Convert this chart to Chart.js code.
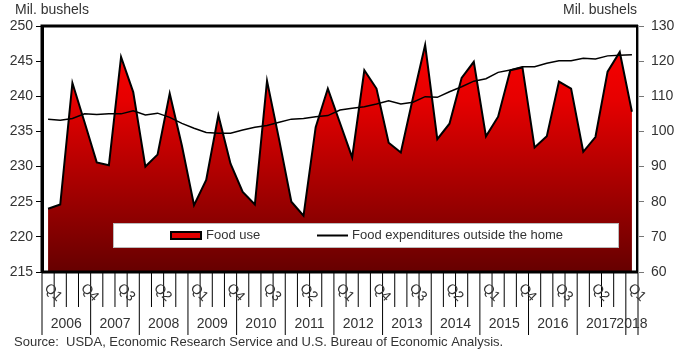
<!DOCTYPE html>
<html><head><meta charset="utf-8">
<script src="https://cdn.jsdelivr.net/npm/chart.js@4/dist/chart.umd.min.js"></script>
<style>html,body{margin:0;padding:0;background:#fff}canvas{display:block}</style>
</head><body>
<canvas id="c" width="680" height="356"></canvas>
<script>
// ---- data ----
const years = ['2006','2007','2008','2009','2010','2011','2012','2013','2014','2015','2016','2017','2018'];
const quarters = ['Q1','Q2','Q3','Q4'];
const categories = [];
years.forEach((y, k) => quarters.forEach(q => { if (k < years.length - 1 || q === 'Q1') categories.push(y + ' ' + q); }));

const foodUse = [224.0, 224.6, 241.9, 236.3, 230.6, 230.2, 245.6, 240.6, 230.0, 231.7, 240.4, 233.0,
  224.5, 228.1, 237.3, 230.4, 226.4, 224.6, 242.2, 233.8, 225.0, 223.0, 235.6, 241.1,
  236.2, 231.3, 243.7, 241.1, 233.4, 232.0, 239.8, 247.3, 233.9, 236.1, 242.6, 244.9,
  234.3, 237.1, 243.7, 244.1, 232.7, 234.3, 242.1, 241.1, 232.1, 234.2, 243.5, 246.3, 237.8];
const foodExpenditures = [103.5, 103.2, 103.7, 105.0, 104.8, 105.0, 105.0, 105.9, 104.7, 105.2, 104.0, 102.3,
  100.9, 99.7, 99.5, 99.5, 100.4, 101.2, 101.7, 102.6, 103.5, 103.7, 104.2, 104.5,
  106.1, 106.6, 107.0, 107.8, 108.7, 107.8, 108.3, 109.9, 109.7, 111.3, 112.7, 114.3,
  115.0, 116.8, 117.5, 118.4, 118.4, 119.4, 120.1, 120.1, 120.8, 120.6, 121.5, 121.7, 121.8];
const leftAxis = [215, 250, 5];
const rightAxis = [60, 130, 10];
const seriesNames = ['Food use', 'Food expenditures outside the home'];
const axisTitle = 'Mil. bushels';
const sourceNote = 'Source:  USDA, Economic Research Service and U.S. Bureau of Economic Analysis.';

// ---- style ----
const FONT = '"Liberation Sans", Arial, sans-serif';
const TXT = '#333';
Chart.defaults.font.family = FONT;

function redGradient(ctx, area) {
  const g = ctx.createLinearGradient(0, area.top, 0, area.bottom);
  g.addColorStop(0, '#ff0000');
  g.addColorStop(0.3, '#e60000');
  g.addColorStop(1, '#660000');
  return g;
}

const decor = {
  id: 'decor',
  afterDraw(chart) {
    const {ctx, chartArea: a, scales} = chart;
    const x = scales.x;
    const n = categories.length;
    const half = (x.getPixelForValue(1) - x.getPixelForValue(0)) / 2;
    ctx.save();
    // frame
    ctx.strokeStyle = '#000';
    ctx.lineWidth = 3;
    ctx.beginPath();
    ctx.moveTo(a.left, a.bottom); ctx.lineTo(a.left, a.top); ctx.lineTo(a.right, a.top);
    ctx.moveTo(a.left, a.bottom); ctx.lineTo(a.right, a.bottom);
    ctx.stroke();
    ctx.lineWidth = 2;
    ctx.beginPath(); ctx.moveTo(a.right - 1, a.top); ctx.lineTo(a.right - 1, a.bottom); ctx.stroke();
    // category ticks
    ctx.lineWidth = 1;
    for (let i = 0; i <= n; i++) {
      const px = i < n ? x.getPixelForValue(i) - half : x.getPixelForValue(n - 1) + half;
      const long = i % 4 === 0 || i === n;
      ctx.beginPath(); ctx.moveTo(px, a.bottom + 1); ctx.lineTo(px, a.bottom + (long ? 63 : 35)); ctx.stroke();
    }
    // quarter labels
    ctx.fillStyle = TXT;
    ctx.font = '14px ' + FONT;
    ctx.textAlign = 'left'; ctx.textBaseline = 'middle';
    for (let i = 0; i < n; i += 3) {
      const q = categories[i].split(' ')[1];
      ctx.save();
      ctx.translate(x.getPixelForValue(i) - half + 4.5, a.bottom + 14);
      ctx.rotate(Math.PI / 4);
      ctx.fillText(q, 0, 0);
      ctx.restore();
    }
    // year labels
    ctx.textAlign = 'center';
    years.forEach((y, k) => {
      const f = 4 * k, l = Math.min(4 * k + 3, n - 1);
      const cx = (x.getPixelForValue(f) - half + x.getPixelForValue(l) + half) / 2;
      ctx.fillText(y, cx, a.bottom + 52);
    });
    // axis titles
    ctx.textAlign = 'left';
    ctx.fillText(axisTitle, 15, 10);
    ctx.textAlign = 'right';
    ctx.fillText(axisTitle, a.right - 1, 10);
    // source
    ctx.textAlign = 'left';
    ctx.font = '13px ' + FONT;
    ctx.fillText(sourceNote, 14, 342);
    // legend
    ctx.fillStyle = '#fff';
    ctx.fillRect(113, 223, 505, 24);
    ctx.strokeStyle = '#bbb'; ctx.lineWidth = 1;
    ctx.strokeRect(113.5, 223.5, 505, 24);
    ctx.fillStyle = '#e00000';
    ctx.fillRect(171, 232, 30, 7);
    ctx.strokeStyle = '#000'; ctx.lineWidth = 2;
    ctx.strokeRect(171, 232, 30, 7);
    ctx.beginPath(); ctx.moveTo(317, 235.5); ctx.lineTo(348, 235.5); ctx.stroke();
    ctx.fillStyle = TXT;
    ctx.font = '13px ' + FONT;
    ctx.fillText(seriesNames[0], 206, 235.5);
    ctx.fillText(seriesNames[1], 352, 235.5);
    ctx.restore();
  }
};

new Chart(document.getElementById('c'), {
  type: 'line',
  data: {
    labels: categories,
    datasets: [
      {
        label: seriesNames[1], data: foodExpenditures, yAxisID: 'y2', order: 0,
        borderColor: '#000', borderWidth: 1.5, pointRadius: 0, fill: false, tension: 0
      },
      {
        label: seriesNames[0], data: foodUse, yAxisID: 'y', order: 1,
        borderColor: '#000', borderWidth: 2, pointRadius: 0, fill: 'start', tension: 0,
        backgroundColor: (c) => { const ch = c.chart; return ch.chartArea ? redGradient(ch.ctx, ch.chartArea) : '#d00000'; }
      }
    ]
  },
  options: {
    responsive: false, animation: false, devicePixelRatio: 1,
    layout: { padding: { top: 26, left: 0, right: 0, bottom: 0 } },
    plugins: { legend: { display: false }, tooltip: { enabled: false } },
    scales: {
      x: {
        type: 'category', offset: true,
        grid: { display: false }, border: { display: false }, ticks: { display: false },
        afterFit: s => { s.height = 84; }
      },
      y: {
        position: 'left', min: leftAxis[0], max: leftAxis[1],
        ticks: { stepSize: leftAxis[2], color: TXT, font: { size: 14 }, padding: 3 },
        grid: { drawOnChartArea: false, tickLength: 6, color: '#000' },
        border: { color: '#000', width: 3 },
        afterFit: s => { s.width = 42; }
      },
      y2: {
        position: 'right', min: rightAxis[0], max: rightAxis[1],
        ticks: { stepSize: rightAxis[2], color: TXT, font: { size: 14 }, padding: 7 },
        grid: { drawOnChartArea: false, tickLength: 6, color: '#777' },
        border: { color: '#999', width: 2 },
        afterFit: s => { s.width = 42; }
      }
    }
  },
  plugins: [decor]
});
</script>
</body></html>
